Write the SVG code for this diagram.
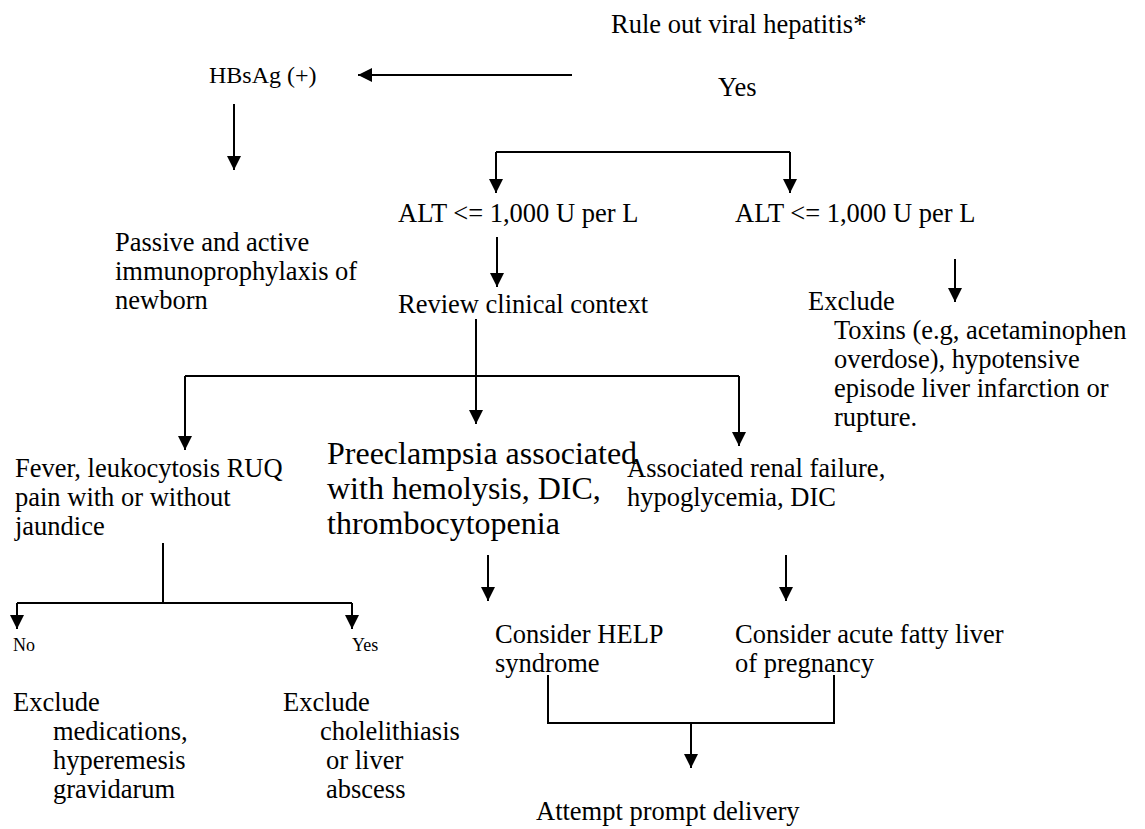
<svg xmlns="http://www.w3.org/2000/svg" width="1145" height="829" viewBox="0 0 1145 829">
<defs>
<marker id="ah" viewBox="0 0 10 10" refX="10" refY="5" markerWidth="15" markerHeight="14" markerUnits="userSpaceOnUse" orient="auto">
<path d="M0,0 L10,5 L0,10 z" fill="#000"/>
</marker>
</defs>
<style>
text{font-family:"Liberation Serif","Times New Roman",serif;fill:#000;font-size:26.5px}
.big{font-size:32px}
.sm{font-size:18px}
.c{fill:none;stroke:#000;stroke-width:2}
.a{marker-end:url(#ah)}
</style>
<rect width="1145" height="829" fill="#fff"/>
<g id="connectors">
<path class="c a" d="M572,75 H358"/>
<path class="c a" d="M234,104 V170"/>
<path class="c a" d="M496,152 V193"/>
<path class="c a" d="M790,152 V193"/>
<path class="c" d="M496,152 H790"/>
<path class="c a" d="M497,237 V287"/>
<path class="c a" d="M955,259 V302"/>
<path class="c" d="M476,319 V376"/>
<path class="c" d="M185,376 H739"/>
<path class="c a" d="M185,376 V450"/>
<path class="c a" d="M476,376 V424"/>
<path class="c a" d="M739,376 V446"/>
<path class="c" d="M163,543 V603"/>
<path class="c" d="M17,603 H352"/>
<path class="c a" d="M17,603 V629"/>
<path class="c a" d="M352,603 V629"/>
<path class="c a" d="M488,555 V601"/>
<path class="c a" d="M786,555 V601"/>
<path class="c" d="M548,675 V723 H834 V675"/>
<path class="c a" d="M691,723 V768"/>
</g>
<g id="n-rule"><text x="611" y="33">Rule out viral hepatitis*</text></g>
<g id="n-yes-top"><text x="718" y="96">Yes</text></g>
<g id="n-hbsag"><text x="209" y="83" style="font-size:24px">HBsAg (+)</text></g>
<g id="n-passive"><text x="115" y="251">Passive and active</text><text x="115" y="280">immunoprophylaxis of</text><text x="115" y="309">newborn</text></g>
<g id="n-alt1"><text x="398" y="222">ALT &lt;= 1,000 U per L</text></g>
<g id="n-alt2"><text x="735" y="222">ALT &lt;= 1,000 U per L</text></g>
<g id="n-review"><text x="398" y="313">Review clinical context</text></g>
<g id="n-toxins"><text x="808" y="310">Exclude</text><text x="834" y="339">Toxins (e.g, acetaminophen</text><text x="834" y="368">overdose), hypotensive</text><text x="834" y="397">episode liver infarction or</text><text x="834" y="426">rupture.</text></g>
<g id="n-fever"><text x="15" y="477">Fever, leukocytosis RUQ</text><text x="15" y="506">pain with or without</text><text x="15" y="535">jaundice</text></g>
<g id="n-pre"><text class="big" x="327" y="464">Preeclampsia associated</text><text class="big" x="327" y="499">with hemolysis, DIC,</text><text class="big" x="327" y="534">thrombocytopenia</text></g>
<g id="n-assoc"><text x="627" y="477">Associated renal failure,</text><text x="627" y="506">hypoglycemia, DIC</text></g>
<g id="n-no"><text class="sm" x="13" y="651">No</text></g>
<g id="n-yes2"><text class="sm" x="352" y="651">Yes</text></g>
<g id="n-excl1"><text x="13" y="711">Exclude</text><text x="53" y="740">medications,</text><text x="53" y="769">hyperemesis</text><text x="53" y="798">gravidarum</text></g>
<g id="n-excl2"><text x="283" y="711">Exclude</text><text x="320" y="740">cholelithiasis</text><text x="326" y="769">or liver</text><text x="326" y="798">abscess</text></g>
<g id="n-help"><text x="495" y="643">Consider HELP</text><text x="495" y="672">syndrome</text></g>
<g id="n-afl"><text x="735" y="643">Consider acute fatty liver</text><text x="735" y="672">of pregnancy</text></g>
<g id="n-deliv"><text x="536" y="820">Attempt prompt delivery</text></g>
</svg>
